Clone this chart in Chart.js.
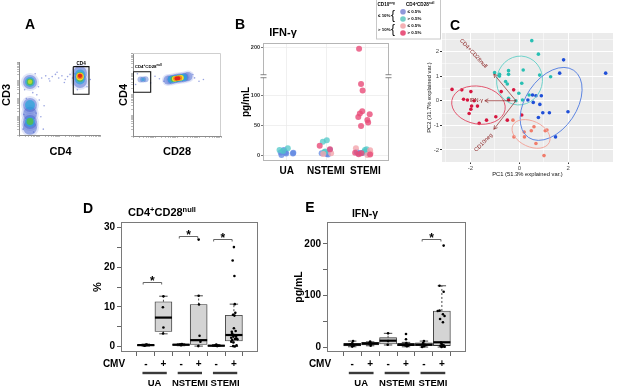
<!DOCTYPE html>
<html><head><meta charset="utf-8">
<script src="https://cdn.jsdelivr.net/npm/chart.js@4.4.1/dist/chart.umd.min.js"></script>
<style>
html,body{margin:0;padding:0;background:#fff;}
body{position:relative;width:617px;height:386px;overflow:hidden;font-family:"Liberation Sans",Arial,sans-serif;}
canvas{position:absolute;left:0;top:0;}
.lbl{position:absolute;white-space:nowrap;line-height:1;color:#000;font-weight:bold;transform:translate(-50%,-50%);}
.lbl sup{font-size:0.68em;vertical-align:0.5em;line-height:0;}
</style></head><body>
<script>
// ================= DATA =================
// ---- Panel A: flow cytometry populations (axis display units 0-100) ----
const a1Sparse = [[28,78],[33,81],[37,77],[41,80],[45,83],[49,78],[53,81],[57,76],[60,80],[63,83],[66,78],[38,74],[47,86],[56,72],[69,84],[24,66],[22,55],[25,48],[21,30],[27,25],[7,62],[6,28],[20,84],[88,76],[84,66],[72,62],[30,8],[5,8],[18,4],[9,50],[17,58],[31,40]];
const a1Outer = [[13.6,72.6],[13.6,41],[13.6,29],[13.6,17.8],[13.6,10],[75.3,85],[75.3,74]];
const a1Mid = [[13.6,72.6],[13.6,41],[13.6,17.8],[75.3,83],[75.3,76]];
const a1Inner = [[13.6,72.6],[13.6,18.5],[75.3,81.5],[75.3,77.5]];
const a1CoreGreen = [[13.6,73]];
const a1CoreYellow = [[75.3,80]];
const a1CoreOrange = [[75.3,80.5]];
const a1CoreRed = [[75.3,81]];
const a1GateX = [67,86.4,86.4,67,67];
const a1GateY = [93.6,93.6,55.8,55.8,93.6];
const a2Sparse = [[30,69],[70,70],[75,66],[25,72],[35,66],[68,74],[20,64],[80,68],[5,75],[3,62]];
const a2NullOuter = [[8.5,68],[11.4,68],[14.3,68.3]];
const a2NullCore = [[11.4,68]];
const a2Outer = [[39.8,67.5],[44.3,68.1],[48.9,69.3],[53.4,69.9],[58,70.5],[62.5,71.7]];
const a2Mid = [[43.5,68.3],[48,69],[52.5,69.8],[57.5,70.6]];
const a2Inner = [[46,68.8],[50,69.4],[54,70.1]];
const a2Yellow = [[47.5,69],[51,69.6],[54.5,70.1]];
const a2Orange = [[48.5,69.2],[50.8,69.6],[53,69.9]];
const a2Red = [[49.5,69.3],[51.5,69.7]];
const a2GateX = [0.3,20.1,20.1,0.3,0.3];
const a2GateY = [77.5,77.5,52.7,52.7,77.5];

// ---- Panel B: IFN-γ (pg/mL) by diagnosis, coloured by CD10neg / CD4+CD28null ----
const bCategories = ['UA','NSTEMI','STEMI'];
const bTickValues = [0,50,100,200];
const bLowLowX  = [0.85,0.87,0.93,0.97,0.99,1.16,1.17, 2.02,1.89,2.10,2.05, 2.82,2.95,3.07,2.88,2.78];
const bLowLowY  = [4.5,0,8.5,4.5,2.8,2.8,4, 2,3,9,1, 2.8,4,3,3.5,5];
const bLowHighX = [0.82,1.03,0.91, 1.92,2.02,1.96,1.98, 2.99,3.03,2.97,3.03];
const bLowHighY = [8.5,11.3,6.7, 22.6,25,5,6, 8.5,6,5.5,10];
const bHighLowX = [2.13,1.93, 2.76,3.12,3.13,3.05];
const bHighLowY = [3,2, 11.3,8,3,0];
const bHighHighX = [1.84,2.10, 2.84,2.89,2.93,2.92,2.86,2.82,3.11,3.05,3.07,2.89,2.83,2.90,3.12,2.74];
const bHighHighY = [15.6,10, 197,120,109,74,70,64,69,59,55,49,1.5,3,1,4];

// ---- Panel C: PCA biplot scores ----
const cTealX = [0.51,0.78,-1.01,-0.81,-0.81,-0.44,-0.44,0.16,0.83,1.28,-0.56,-0.49,0.10,-0.02,0.40,0.13,-0.44,-0.14];
const cTealY = [2.44,1.89,1.14,1.00,1.07,1.22,1.07,1.25,1.04,0.97,0.78,0.68,0.71,0.30,0.23,0.03,0.10,0.00];
const cBlueX = [1.81,1.65,3.53,0.54,0.68,0.90,0.57,0.84,0.96,1.23,0.78,1.99,1.48,0.35];
const cBlueY = [1.66,1.12,1.12,0.23,0.20,0.20,-0.07,-0.15,-0.49,-0.49,-0.68,-0.45,-1.47,0.03];
const cRedX = [-2.75,-2.35,-1.98,-2.28,-2.12,-1.85,-1.95,-1.71,-1.98,-2.05,-1.64,-1.34,-0.96,-0.49,-0.74,-0.23,-0.44,0.10];
const cRedY = [0.46,0.44,0.37,0.06,0.03,0.00,-0.22,-0.22,-0.35,-0.52,-0.92,-0.79,-0.65,-0.79,0.37,0.44,0.03,-0.58];
const cSalmonX = [-0.26,0.60,0.20,0.49,1.06,1.13,-0.22,0.21,0.68,1.01];
const cSalmonY = [-0.79,-1.06,-1.27,-1.22,-1.22,-1.19,-1.47,-1.47,-1.74,-2.23];
// group ellipses: centre, semi-axes (PC units), angle (deg)
const ellCx = [0.01,1.30,-1.67,0.48];
const ellCy = [0.82,-0.13,-0.18,-1.35];
const ellA = [1.00,1.65,1.10,0.82];
const ellB = [0.93,1.04,0.77,0.52];
const ellAngle = [75,56,-10,-25];
// variable loadings
const loadNames = ['CD4+CD28null','IFN-γ','CD10neg'];
const loadX = [-1.04,-1.41,-1.04];
const loadY = [1.08,0.00,-1.16];
const biplotOrigin = [-0.14,0.0];
const loadLabelX = [-1.35,-1.48,-1.12];
const loadLabelY = [1.36,0.0,-1.36];
const loadLabelRot = [47,0,-45];

// ---- Panel D: CD4+CD28null (%) by CMV serostatus ----
const groupNames = ['UA','NSTEMI','STEMI'];
const cmvLabels = ['-','+','-','+','-','+'];
const dQ1  = [0.2, 3.8, 0.3, 0.5, 0.1, 1.4];
const dMed = [0.35,7.3, 0.45,1.6, 0.2, 2.9];
const dQ3  = [0.5, 11.3,0.6, 10.6,0.3, 7.9];
const dLo  = [0.1, 3.2, 0.2, 0.1, 0.0, 0.0];
const dHi  = [0.6, 12.7,0.7, 12.8,0.5, 10.7];
const dPtX = [0.97,1.05,1.00,0.92, 2.00,1.97,2.00,1.98, 3.00,3.05,2.95, 4.00,4.00,4.02,4.05,4.10,3.98, 5.00,5.05,4.95,5.10,
              6.00,5.93,6.03,6.05,5.95,6.03,6.08,6.00,5.88,5.90,6.00,6.12,5.97,5.85,6.06,5.90,6.20,6.15,5.97,5.85,5.96,6.05,6.15,6.10];
const dPtY = [0.3,0.5,0.4,0.2, 12.7,9.9,4.8,3.3, 0.3,0.6,0.5, 27,12.8,10.6,2.7,1.2,0.1, 0.5,0.1,0.3,0.2,
              25.1,21.7,17.8,10.7,8.0,7.8,8.5,4.6,3.7,3.3,2.9,2.5,2.5,2.2,1.9,1.6,1.8,2.0,1.0,1.2,0.1,0.0,0.3,3.9];
const dSigL = [0.85,2.90,4.85];
const dSigR = [1.90,3.95,5.90];
const dSigY = [16.2,27.8,27.1];

// ---- Panel E: IFN-γ (pg/mL) by CMV serostatus ----
const eQ1  = [2.5, 4.5, 6.4, 3.0, 3.0, 3.2];
const eMed = [5.0, 7.0, 12.8,4.7, 5.0, 9.7];
const eQ3  = [7.7, 9.5, 18.6,7.5, 8.5, 70.3];
const eLo  = [1.0, 3.0, 4.5, 1.0, 0.5, 0.5];
const eHi  = [12.0,10.5,27.0,9.5, 12.0,119];
const ePtX = [1.05,1.00,0.90,1.08,1.00, 2.00,2.05,1.95,2.03,2.00, 3.00,3.00,2.98, 4.00,4.00,4.02,3.95,4.05,4.10, 5.00,4.95,5.05,5.00,4.90,5.10,
              6.10,5.87,6.10,5.77,5.87,6.06,6.15,5.90,6.06,5.95,6.00,6.10,5.92,6.05,6.15,5.98];
const ePtY = [12,7.7,5.8,3.2,1.3, 11,6.3,7.5,3.2,9, 27,12,5, 25.8,15.5,8,4,2,3, 12,8,5,2,0.5,4,
              196.7,119,107.6,70.3,71,64,60.6,54.8,48.4,9,6,4,3,2,1,0.5];
const eSigL = [4.90];
const eSigR = [5.95];
const eSigY = [209];

// ================= RENDERING =================
const W = 617, H = 386;
const FONT = '"Liberation Sans", Arial, sans-serif';
Chart.defaults.font.family = FONT;
Chart.defaults.color = '#000';
Chart.defaults.animation = false;
Chart.defaults.events = [];
Chart.defaults.plugins.legend.display = false;
Chart.defaults.plugins.tooltip.enabled = false;

const pts = (xs, ys) => xs.map((x,i)=>({x, y: ys[i]}));
const pairs = arr => arr.map(p=>({x:p[0], y:p[1]}));

function makeCanvas(){ const c=document.createElement('canvas'); c.width=W; c.height=H; c.style.width=W+'px'; c.style.height=H+'px'; document.body.appendChild(c); return c; }
function chartAt(box, cfg){
  const [l,t,r,b,yw,xh] = box;
  cfg.options = Object.assign({responsive:false, maintainAspectRatio:false, devicePixelRatio:1, animation:false,
    layout:{padding:{left:l-yw, top:t, right:W-r, bottom:H-b-xh}}}, cfg.options);
  const sx = cfg.options.scales.x, sy = cfg.options.scales.y;
  sx.afterFit = s=>{ s.height=xh; s.paddingLeft=0; s.paddingRight=0; s.paddingTop=0; s.paddingBottom=0; };
  sy.afterFit = s=>{ s.width=yw; s.paddingLeft=0; s.paddingRight=0; s.paddingTop=0; s.paddingBottom=0; };
  // Chart.js paints dataset 0 last (on top): list is given bottom-to-top, so reverse it
  cfg.data.datasets = cfg.data.datasets.slice().reverse();
  return new Chart(makeCanvas(), cfg);
}
function richText(ctx, parts, x, y, size, bold, align){
  const f = s => (bold?'bold ':'') + s + 'px ' + FONT;
  let w = 0;
  parts.forEach(([t,s])=>{ ctx.font=f(s?size*0.68:size); w+=ctx.measureText(t).width; });
  let cx = align==='center' ? x-w/2 : align==='right' ? x-w : x;
  ctx.textAlign='left'; ctx.textBaseline='middle';
  parts.forEach(([t,s])=>{ ctx.font=f(s?size*0.68:size); ctx.fillText(t, cx, s ? y-size*0.33 : y); cx+=ctx.measureText(t).width; });
}
function label(html, cx, cy, size, rot, weight){
  const d=document.createElement('div'); d.className='lbl'; d.innerHTML=html;
  d.style.left=cx+'px'; d.style.top=cy+'px'; d.style.fontSize=size+'px';
  if (weight) d.style.fontWeight=weight;
  d.style.transform='translate(-50%,-50%)' + (rot?' rotate('+rot+'deg)':'');
  document.body.appendChild(d);
}

// ---------- Panel A ----------
const flowTicks = (()=>{ const t=[]; [0,25,50,75].forEach(d=>{ t.push(d); [2,3,4,5,6,7,8,9].forEach(k=>t.push(d+25*Math.log10(k))); }); t.push(100); return t; })();
function flowAxis(){ return { type:'linear', min:0, max:100,
  border:{display:true, color:'#8c8c8c', width:1},
  grid:{drawOnChartArea:false, drawTicks:true, tickLength:2, color:'#a0a0a0', lineWidth:0.7},
  ticks:{display:false},
  afterBuildTicks: a=>{ a.ticks = flowTicks.map(v=>({value:v})); } }; }
const layer = (arr, r, color) => ({data:pairs(arr), pointRadius:r, pointBackgroundColor:color, pointBorderWidth:0, backgroundColor:color, borderColor:color});
const gate = (xs, ys) => ({data:pts(xs,ys), showLine:true, pointRadius:0, borderColor:'#111', borderWidth:1.1, fill:false});

chartAt([19,62,100,135,3,3], {type:'scatter',
  data:{datasets:[
    layer(a1Sparse,0.8,'rgba(70,90,200,0.55)'),
    layer(a1Outer,9,'rgba(90,110,215,0.18)'),
    layer(a1Outer,7,'rgba(60,90,205,0.45)'),
    layer(a1Mid,5,'rgba(40,165,220,0.7)'),
    layer(a1Inner,3.4,'rgba(80,190,80,0.9)'),
    layer(a1CoreGreen,2.2,'#b6d935'),
    layer(a1CoreYellow,3.8,'#f3e22c'),
    layer(a1CoreOrange,3,'#f38a1f'),
    layer(a1CoreRed,2.1,'#e3241c'),
    gate(a1GateX,a1GateY)]},
  options:{scales:{x:flowAxis(), y:flowAxis()}},
  plugins:[{id:'a1', afterDraw(c){ const {ctx,scales:{x,y}}=c; ctx.save(); ctx.fillStyle='#000'; richText(ctx,[['CD4',0]], x.getPixelForValue(76.7), y.getPixelForValue(97.5), 4.6, true, 'center'); ctx.restore(); }}]
});
chartAt([133,53,221,136,3,3], {type:'scatter',
  data:{datasets:[
    layer(a2Sparse,0.8,'rgba(70,90,200,0.55)'),
    layer(a2NullOuter,3,'rgba(70,110,210,0.45)'),
    layer(a2NullCore,1.8,'rgba(60,170,220,0.7)'),
    layer(a2Outer,6,'rgba(90,110,215,0.18)'),
    layer(a2Outer,4.5,'rgba(60,90,205,0.45)'),
    layer(a2Mid,3.6,'rgba(40,165,220,0.75)'),
    layer(a2Inner,3,'rgba(80,190,80,0.9)'),
    layer(a2Yellow,2.8,'#f3e22c'),
    layer(a2Orange,2.5,'#f38a1f'),
    layer(a2Red,2,'#e3241c'),
    gate(a2GateX,a2GateY)]},
  options:{scales:{x:flowAxis(), y:flowAxis()}},
  plugins:[{id:'a2', afterDraw(c){ const {ctx,chartArea:a,scales:{x,y}}=c; ctx.save();
    ctx.strokeStyle='#cfcfcf'; ctx.lineWidth=1; ctx.beginPath(); ctx.moveTo(a.left,a.top+0.5); ctx.lineTo(a.right-0.5,a.top+0.5); ctx.lineTo(a.right-0.5,a.bottom); ctx.stroke();
    ctx.fillStyle='#000'; richText(ctx,[['CD4',0],['+',1],['CD28',0],['null',1]], x.getPixelForValue(2), y.getPixelForValue(83.5), 4.4, true, 'left'); ctx.restore(); }}]
});

// ---------- Panel B ----------
const bColors = ['rgba(95,135,225,0.75)','rgba(80,200,200,0.75)','rgba(244,165,172,0.8)','rgba(232,75,120,0.8)'];
const bLegendColors = ['#8f98da','#74cfc8','#f4b0b4','#e9577f'];
function bAxisValue(v){ return v <= 135 ? v : 181 + (v-200)*0.6; }
const bSeries = (xs, ys, col) => ({data: xs.map((x,i)=>({x, y: bAxisValue(ys[i])})), pointRadius:3, pointBackgroundColor:col, pointBorderWidth:0, backgroundColor:col, borderColor:col});
chartAt([263,43,389,161,23,18], {type:'scatter',
  data:{datasets:[
    bSeries(bLowLowX,bLowLowY,bColors[0]),
    bSeries(bLowHighX,bLowHighY,bColors[1]),
    bSeries(bHighLowX,bHighLowY,bColors[2]),
    bSeries(bHighHighX,bHighHighY,bColors[3])]},
  options:{scales:{
    x:{type:'linear', min:0.4, max:3.6, border:{display:false},
       grid:{color:'#ececec', lineWidth:0.8, drawTicks:false},
       afterBuildTicks:a=>{ a.ticks = bCategories.map((c,i)=>({value:i+1})); },
       ticks:{padding:4, font:{size:10, weight:'bold'}, color:'#000', callback:(v,i)=>bCategories[i]}},
    y:{type:'linear', min:-10, max:189, border:{display:false},
       grid:{color:'#ececec', lineWidth:0.8, drawTicks:true, tickLength:2, tickColor:'#555'},
       afterBuildTicks:a=>{ a.ticks = bTickValues.map(v=>({value:bAxisValue(v)})); },
       ticks:{padding:1, font:{size:5.5, weight:'bold'}, color:'#333', callback:(v,i)=>String(bTickValues[i])},
       title:{display:true, text:'pg/mL', font:{size:10, weight:'bold'}, padding:0, color:'#000'}}}},
  plugins:[{id:'bExtras', afterDraw(c){
    const {ctx, chartArea:a, scales:{y}} = c; ctx.save();
    ctx.strokeStyle='#b5b5b5'; ctx.lineWidth=1; ctx.strokeRect(a.left+0.5,a.top+0.5,a.right-a.left-1,a.bottom-a.top-1);
    const yb = y.getPixelForValue(133);
    [a.left+0.5, a.right-0.5].forEach(xs=>{
      ctx.fillStyle='#fff'; ctx.fillRect(xs-2, yb-1.5, 4, 3);
      ctx.strokeStyle='#666'; ctx.lineWidth=0.8;
      ctx.beginPath(); ctx.moveTo(xs-3,yb-1.5); ctx.lineTo(xs+3,yb-1.5); ctx.moveTo(xs-3,yb+1.5); ctx.lineTo(xs+3,yb+1.5); ctx.stroke(); });
    // legend
    ctx.fillStyle='#fff'; ctx.strokeStyle='#c8c8c8'; ctx.lineWidth=1;
    ctx.fillRect(376,0,65,39); ctx.strokeRect(376.5,-1,64,40);
    ctx.fillStyle='#000';
    richText(ctx,[['CD10',0],['neg',1]],377.5,5,4.6,true,'left');
    richText(ctx,[['CD4',0],['+',1],['CD28',0],['null',1]],406,5,4.6,true,'left');
    richText(ctx,[['≤ 10%',0]],378,15.5,4.4,true,'left');
    richText(ctx,[['> 10%',0]],378,29.5,4.4,true,'left');
    ctx.font='12px '+FONT; ctx.textAlign='left'; ctx.textBaseline='middle';
    ctx.fillText('{',391,15.3); ctx.fillText('{',391,29.3);
    const ly=[11.7,19,26,33], lt=['≤ 0.5%','> 0.5%','≤ 0.5%','> 0.5%'];
    ly.forEach((yy,i)=>{ ctx.beginPath(); ctx.fillStyle=bLegendColors[i]; ctx.arc(403,yy,2.8,0,Math.PI*2); ctx.fill();
      ctx.fillStyle='#000'; richText(ctx,[[lt[i],0]],407.5,yy,4.4,true,'left'); });
    ctx.restore(); }}]
});

// ---------- Panel C ----------
const cDot = (xs, ys, col) => ({data:pts(xs,ys), pointRadius:1.8, pointBackgroundColor:col, pointBorderWidth:0, backgroundColor:col, borderColor:col});
const ellColors = ['#6fd3cb','#5e86e2','#e3576f','#f3a89e'];
chartAt([442,33,615,162,16,16], {type:'scatter',
  data:{datasets:[
    cDot(cTealX,cTealY,'#28bfb3'),
    cDot(cBlueX,cBlueY,'#1f4fd8'),
    cDot(cRedX,cRedY,'#d6163f'),
    cDot(cSalmonX,cSalmonY,'#f07c6b')]},
  options:{scales:{
    x:{type:'linear', min:-3.16, max:3.83, border:{display:false},
       afterBuildTicks:a=>{ a.ticks=[-3,-2,-1,0,1,2,3].map(v=>({value:v})); },
       grid:{color:'#fff', lineWidth:c=>(c.tick && c.tick.value%2===0)?1:0.5, drawTicks:true, tickLength:2,
             tickColor:c=>(c.tick && c.tick.value%2===0)?'#333':'rgba(0,0,0,0)'},
       ticks:{padding:1, font:{size:6}, color:'#4d4d4d', callback:v=>(v%2===0?String(v):'')},
       title:{display:true, text:'PC1 (51.3% explained var.)', font:{size:5.8}, padding:0, color:'#111'}},
    y:{type:'linear', min:-2.49, max:2.75, border:{display:false},
       afterBuildTicks:a=>{ a.ticks=[-2.5,-2,-1.5,-1,-0.5,0,0.5,1,1.5,2,2.5].map(v=>({value:v})); },
       grid:{color:'#fff', lineWidth:c=>(c.tick && Number.isInteger(c.tick.value))?1:0.5, drawTicks:true, tickLength:2,
             tickColor:c=>(c.tick && Number.isInteger(c.tick.value))?'#333':'rgba(0,0,0,0)'},
       ticks:{padding:1, font:{size:6}, color:'#4d4d4d', callback:v=>(Number.isInteger(v)?String(v):'')},
       title:{display:true, text:'PC2 (31.7% explained var.)', font:{size:5.8}, padding:0, color:'#111'}}}},
  plugins:[{id:'cExtras',
    beforeDraw(c){ const {ctx,chartArea:a}=c; ctx.save(); ctx.fillStyle='#ebebeb'; ctx.fillRect(a.left,a.top,a.right-a.left,a.bottom-a.top); ctx.restore(); },
    afterDatasetsDraw(c){
      const {ctx, scales:{x,y}} = c;
      const kx = x.getPixelForValue(1)-x.getPixelForValue(0), ky = y.getPixelForValue(0)-y.getPixelForValue(1), k=(kx+ky)/2;
      ctx.save();
      ellCx.forEach((cx,i)=>{ ctx.beginPath(); ctx.ellipse(x.getPixelForValue(cx), y.getPixelForValue(ellCy[i]), ellA[i]*k, ellB[i]*k, -ellAngle[i]*Math.PI/180, 0, Math.PI*2);
        ctx.strokeStyle=ellColors[i]; ctx.lineWidth=1; ctx.stroke(); });
      const ox=x.getPixelForValue(biplotOrigin[0]), oy=y.getPixelForValue(biplotOrigin[1]);
      ctx.strokeStyle='rgba(139,30,30,0.75)'; ctx.lineWidth=0.9;
      loadX.forEach((lx,i)=>{ const ex=x.getPixelForValue(lx), ey=y.getPixelForValue(loadY[i]);
        ctx.beginPath(); ctx.moveTo(ox,oy); ctx.lineTo(ex,ey); ctx.stroke();
        const ang=Math.atan2(ey-oy,ex-ox), hl=4;
        ctx.beginPath(); ctx.moveTo(ex-hl*Math.cos(ang-0.5), ey-hl*Math.sin(ang-0.5)); ctx.lineTo(ex,ey); ctx.lineTo(ex-hl*Math.cos(ang+0.5), ey-hl*Math.sin(ang+0.5)); ctx.stroke(); });
      loadNames.forEach((n,i)=>{ ctx.save(); ctx.translate(x.getPixelForValue(loadLabelX[i]), y.getPixelForValue(loadLabelY[i]));
        ctx.rotate(loadLabelRot[i]*Math.PI/180); ctx.fillStyle='#8b2323'; ctx.font='5.6px '+FONT; ctx.textAlign='right'; ctx.textBaseline='middle';
        ctx.fillText(n,0,0); ctx.restore(); });
      ctx.restore(); }}]
});

// ---------- Panels D & E (box plots) ----------
// returned bottom-to-top: whiskers, caps, boxes, medians, points
function boxDatasets(q1,med,q3,lo,hi,px,py){
  const whisk=[], caps=[];
  q1.forEach((q,i)=>{ whisk.push({x:i+1,y:q3[i]},{x:i+1,y:hi[i]},{x:i+1,y:null},{x:i+1,y:q},{x:i+1,y:lo[i]},{x:i+1,y:null});
    caps.push({x:i+1,y:hi[i]},{x:i+1,y:lo[i]}); });
  return [
    {type:'scatter', data:whisk, showLine:true, spanGaps:false, pointRadius:0, borderColor:'#333', borderWidth:0.9, borderDash:[2,2]},
    {type:'scatter', data:caps, pointStyle:'line', pointRadius:4.2, pointBorderColor:'#333', pointBorderWidth:0.9, borderColor:'#333'},
    {type:'bar', data:q1.map((q,i)=>({x:i+1, y:[q,q3[i]]})), barThickness:17, backgroundColor:'#d4d4d4', borderColor:'#333', borderWidth:0.9, borderSkipped:false},
    {type:'scatter', data:med.map((m,i)=>({x:i+1,y:m})), pointStyle:'line', pointRadius:8.5, pointBorderColor:'#000', pointBorderWidth:2.2, borderColor:'#000'},
    {type:'scatter', data:pts(px,py), pointRadius:1.3, pointBackgroundColor:'#000', pointBorderWidth:0, backgroundColor:'#000', borderColor:'#000'}
  ];
}
function boxExtras(sigL,sigR,sigY){ return {id:'boxExtras', afterDraw(c){
  const {ctx, chartArea:a, scales:{x,y}} = c; ctx.save();
  ctx.strokeStyle='#7a7a7a'; ctx.lineWidth=1; ctx.strokeRect(a.left+0.5,a.top+0.5,a.right-a.left-1,a.bottom-a.top-1);
  ctx.strokeStyle='#555'; ctx.lineWidth=0.9; ctx.fillStyle='#000';
  sigL.forEach((l,i)=>{ const x1=x.getPixelForValue(l), x2=x.getPixelForValue(sigR[i]), yy=Math.round(y.getPixelForValue(sigY[i]))+0.5;
    ctx.beginPath(); ctx.moveTo(x1,yy+2); ctx.lineTo(x1,yy); ctx.lineTo(x2,yy); ctx.lineTo(x2,yy+2); ctx.stroke();
    ctx.font='bold 12px '+FONT; ctx.textAlign='center'; ctx.textBaseline='alphabetic'; ctx.fillText('*',(x1+x2)/2,yy+2); });
  ctx.font='bold 10px '+FONT; ctx.textAlign='center'; ctx.textBaseline='middle';
  ctx.fillText('CMV', a.left-7, a.bottom+12);
  groupNames.forEach((g,i)=>{ const cx=2*i+1.5;
    ctx.strokeStyle='#3a3a3a'; ctx.lineWidth=2.4; ctx.beginPath();
    ctx.moveTo(x.getPixelForValue(cx-0.69), a.bottom+21); ctx.lineTo(x.getPixelForValue(cx+0.69), a.bottom+21); ctx.stroke();
    ctx.font='bold 9.5px '+FONT; ctx.fillText(g, x.getPixelForValue(cx), a.bottom+31); });
  ctx.restore(); }}; }
function boxXAxis(min,max){ return {type:'linear', min, max, border:{display:false},
  afterBuildTicks:a=>{ a.ticks = cmvLabels.map((c,i)=>({value:i+1})); },
  grid:{drawOnChartArea:false, drawTicks:true, tickLength:4, color:'#555', lineWidth:0.9},
  ticks:{padding:2, font:{size:10, weight:'bold'}, color:'#000', callback:(v,i)=>cmvLabels[i]}}; }
function boxYAxis(min,max,ticks,labelEvery,title,tsize){ return {type:'linear', min, max, border:{display:false},
  afterBuildTicks:a=>{ a.ticks = ticks.map(v=>({value:v})); },
  grid:{drawOnChartArea:false, drawTicks:true, tickLength:4, color:'#555', lineWidth:0.9},
  ticks:{padding:2, font:{size:10, weight:'bold'}, color:'#000', callback:v=>(v%labelEvery===0?String(v):'')},
  title:{display:true, text:title, font:{size:tsize, weight:'bold'}, padding:0, color:'#000'}}; }

chartAt([121,222,258,352,30,18], {type:'scatter',
  data:{datasets:boxDatasets(dQ1,dMed,dQ3,dLo,dHi,dPtX,dPtY)},
  options:{scales:{x:boxXAxis(0.24,6.72), y:boxYAxis(-1.39,31.44,[0,5,10,15,20,25,30],10,'%',11)}},
  plugins:[boxExtras(dSigL,dSigR,dSigY)]});
chartAt([327,222,466,352,34,18], {type:'scatter',
  data:{datasets:boxDatasets(eQ1,eMed,eQ3,eLo,eHi,ePtX,ePtY)},
  options:{scales:{x:boxXAxis(0.24,6.70), y:boxYAxis(-9.1,242.4,[0,50,100,150,200],100,'pg/mL',10.5)}},
  plugins:[boxExtras(eSigL,eSigR,eSigY)]});

// ---------- HTML text ----------
label('A',30,24,14); label('B',240,24,14); label('C',455,25,14); label('D',88,208,14); label('E',310,207,14);
label('IFN-γ',283,32,11); label('CD4<sup>+</sup>CD28<sup>null</sup>',162,212,11); label('IFN-γ',365,213,10.5);
label('CD3',6,94.5,11,-90); label('CD4',60.5,150.5,11); label('CD4',123,94.5,11,-90); label('CD28',177,150.5,11);
</script>
</body></html>
